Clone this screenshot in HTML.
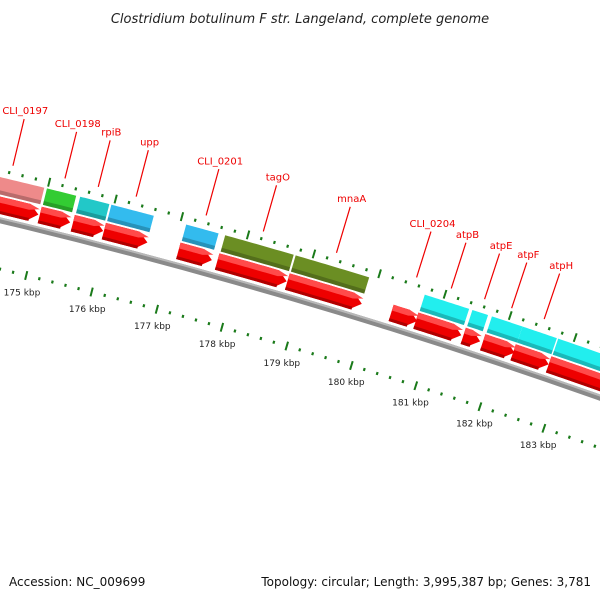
<!DOCTYPE html>
<html><head><meta charset="utf-8"><style>
html,body{margin:0;padding:0;background:#fff;}
svg{display:block;}
text{font-family:"DejaVu Sans","Liberation Sans",sans-serif;}
</style></head><body>
<svg id="map" width="600" height="600" viewBox="0 0 600 600" xmlns="http://www.w3.org/2000/svg">
<text x="300" y="23" text-anchor="middle" font-size="13" font-style="italic" fill="#222">Clostridium botulinum F str. Langeland, complete genome</text>
<g id="ticks"></g>
<g id="backbone"></g>
<g id="genes"></g>
<g id="labels"></g>
<text x="9" y="586" font-size="12" fill="#111">Accession: NC_009699</text>
<text x="591" y="586" text-anchor="end" font-size="12" fill="#111">Topology: circular; Length: 3,995,387 bp; Genes: 3,781</text>
</svg>
<script>
const geneNames = ["CLI_0197","CLI_0198","rpiB","upp","CLI_0201","tagO","mnaA","CLI_0204","atpB","atpE","atpF","atpH","atpA"];
const geneStarts = [173.9,174.98,175.48,175.95,177.08,177.67,178.74,180.33,180.71,181.44,181.74,182.21,182.76];
const geneEnds = [174.96,175.44,175.94,176.61,177.59,178.73,179.88,180.73,181.41,181.70,182.23,182.76,184.2];
const geneColors = ["#ee8a8a","#33cc33","#22c8c8","#33bbee","#33bbee","#6b8e23","#6b8e23",null,"#22eeee","#22eeee","#22eeee","#22eeee","#22eeee"];
const showLabel = [true,true,true,true,true,true,true,true,true,true,true,true,false];
const kbpTicks = [172,173,174,175,176,177,178,179,180,181,182,183];

const NS="http://www.w3.org/2000/svg";
const CX=-1398, CY=6052;
function ang(k){return (-75.5+(k-176)*0.65)*Math.PI/180;}
function P(k,r){const a=ang(k);return [CX+r*Math.cos(a), CY+r*Math.sin(a)];}
function pt(p){return p[0].toFixed(2)+","+p[1].toFixed(2);}
function sector(k1,k2,r1,r2){
  const pts=[];const n=20;
  for(let i=0;i<=n;i++)pts.push(P(k1+(k2-k1)*i/n,r2));
  for(let i=n;i>=0;i--)pts.push(P(k1+(k2-k1)*i/n,r1));
  return pts.map(pt).join(" ");
}
function arrow(k1,k2,r1,r2){
  const head=Math.min(0.15,(k2-k1)*0.6);const kb=k2-head;
  const pts=[];const n=20;
  for(let i=0;i<=n;i++)pts.push(P(k1+(kb-k1)*i/n,r2));
  pts.push(P(k2,(r1+r2)/2));
  for(let i=n;i>=0;i--)pts.push(P(k1+(kb-k1)*i/n,r1));
  return pts.map(pt).join(" ");
}
function mk(tag,attrs,parent){const e=document.createElementNS(NS,tag);for(const k in attrs)e.setAttribute(k,attrs[k]);parent.appendChild(e);return e;}

const bb=document.getElementById('backbone');
let e=mk('polygon',{points:sector(170,186,5994,6000),fill:'#8a8a8a'},bb);


e=mk('polygon',{points:sector(170,186,5998,6000),fill:'#b8b8b8'},bb);



const tg=document.getElementById('ticks');
for(let i=0;i<=65;i++){
  const k=172+i*0.2;const major=(i%5===0);
  const rs=major?[[6041,6050],[5945,5954]]:[[6044,6047],[5948,5951]];
  rs.forEach((rr,j)=>{
    const a=P(k,rr[0]),b=P(k,rr[1]);
    const l=mk('line',{x1:a[0],y1:a[1],x2:b[0],y2:b[1],stroke:'#1a7a1a','stroke-width':major?2:2.2},tg);
    
    
  });
}
kbpTicks.forEach(k=>{
  const p=P(k,5932);
  const t=mk('text',{x:p[0],y:p[1]+3,'text-anchor':'middle','font-size':'9',fill:'#222'},tg);
  t.textContent=k+' kbp';
  
  
});

const gg=document.getElementById('genes');
const lg=document.getElementById('labels');
geneNames.forEach((name,i)=>{
  const k1=geneStarts[i],k2=geneEnds[i];
  let a=mk('polygon',{points:arrow(k1,k2,6003,6020),fill:'#ee0000'},gg);
  
  
  a=mk('polygon',{points:arrow(k1,k2,6014,6020),fill:'#ff4a4a'},gg);
  
  
  a=mk('polygon',{points:sector(k1,Math.max(k1,k2-0.12),6003,6006),fill:'#b00000'},gg);
  
  
  if(geneColors[i]){
    let b=mk('polygon',{points:sector(k1+0.01,k2-0.01,6022,6039),fill:geneColors[i]},gg);
    
    
    b=mk('polygon',{points:sector(k1+0.01,k2-0.01,6022,6026),fill:'#000',opacity:0.22},gg);
    
    
  }
  if(showLabel[i]){
    const m=(k1+k2)/2;
    const p1=P(m,6053),p2=P(m,6101),p3=P(m,6106);
    const l=mk('line',{x1:p1[0],y1:p1[1],x2:p2[0],y2:p2[1],stroke:'#ee0000','stroke-width':1.2},lg);
    
    
    const t=mk('text',{x:p3[0],y:p3[1],'text-anchor':'middle','font-size':'10',fill:'#ee0000'},lg);
    t.textContent=name;
    
    
  }
});
</script>
</body></html>
